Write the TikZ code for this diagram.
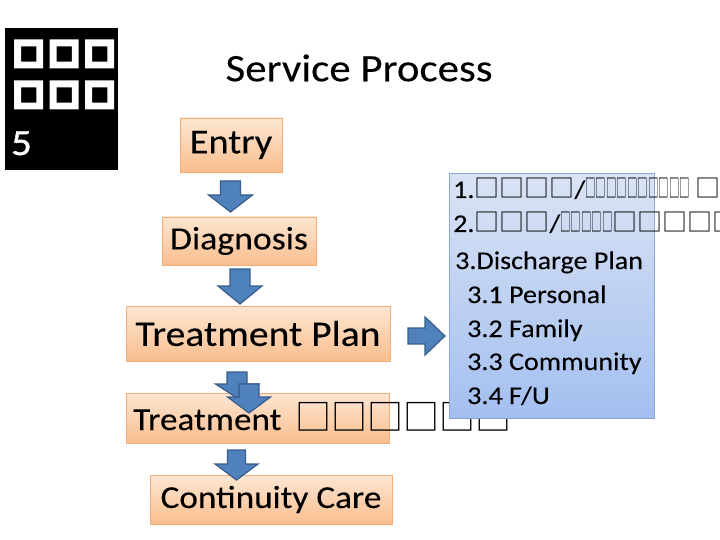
\documentclass[tikz,border=0pt]{standalone}
\usepackage{fontspec}
\usepackage{graphicx}
\setmainfont{Carlito}[FakeStretch=1.1, FakeBold=0.15]
\newfontfamily\fivefont{Carlito}[FakeStretch=1.1, FakeBold=1.2]
\newfontfamily\cjk{Noto Sans CJK SC}
\newfontfamily\cjkb{Noto Sans CJK SC}[FakeBold=20]
\definecolor{orTop}{HTML}{FDE6D2}
\definecolor{orBot}{HTML}{F9BE8E}
\definecolor{orLine}{HTML}{F2AE7A}
\definecolor{blTop}{HTML}{DAE3F4}
\definecolor{blBot}{HTML}{A3BFF0}
\definecolor{blLine}{HTML}{8AA6D8}
\definecolor{arFill}{HTML}{4F81BD}
\definecolor{arLine}{HTML}{385D8A}
\newcommand\fs[1]{\fontsize{#1}{#1}\selectfont}
\newcommand\nt{\scalebox{0.42}[1]{\cjk\fs{25}□}}
\newcommand\bt{{\cjk\fs{25}□}}
\newcommand\wt{{\cjkb\fs{29}□}\kern6.5pt}
\usetikzlibrary{calc}
\newcommand\barrow[7]{% name, cx, ytop, ybot, shaft w, head w, head len  (down arrow)
  \coordinate (#1) at (#2,#3);
  \draw[blockarrow] ($(#1)+(-#5/2,0)$) -- ($(#1)+(#5/2,0)$) -- ($(#1)+(#5/2,#4-#3-#7)$)
    -- ($(#1)+(#6/2,#4-#3-#7)$) -- ($(#1)+(0,#4-#3)$) -- ($(#1)+(-#6/2,#4-#3-#7)$)
    -- ($(#1)+(-#5/2,#4-#3-#7)$) -- cycle;}
\tikzset{
  obox/.style={draw=orLine, line width=0.8pt, top color=orTop, bottom color=orBot, inner sep=0pt},
  blockarrow/.style={draw=arLine, line width=1.2pt, fill=arFill, line join=miter},
}
\begin{document}
\begin{tikzpicture}[x=1pt,y=-1pt]
\useasboundingbox (0,0) rectangle (720,540);
% black block
\fill[black] (5,28) rectangle (118,170);
\begin{scope}
\clip (5,28) rectangle (118,170);
\node[anchor=base west, text=white, inner sep=0pt] (tl1) at (14,65) {\wt\wt\wt};
\node[anchor=base west, text=white, inner sep=0pt] (tl2) at (14,106) {\wt\wt\wt};
\end{scope}
\node[anchor=base west, text=white, inner sep=0pt] (five) at (11,155) {\fivefont\fs{37}5};
% title
\node[inner sep=0pt] (title) at (359,68) {\fs{39}Service Process};
% boxes
\node[obox, minimum width=102pt, minimum height=54pt] (entry) at (231,145) {\fs{35}Entry};
\node[obox, minimum width=154pt, minimum height=48pt] (diag) at (239,241) {\fs{32.5}Diagnosis};
\node[obox, minimum width=264pt, minimum height=55pt] (tplan) at (258,333.5) {\fs{36}Treatment Plan};
\node[obox, minimum width=263pt, minimum height=50pt] (treat) at (257.5,418) {};
\node[anchor=base west, inner sep=0pt] (treattxt) at (133,430) {\fs{32}Treatment\kern14pt{\cjk\fs{36}□□□□□□}};
\node[obox, minimum width=242pt, minimum height=49pt] (cont) at (271,499.5) {\fs{32}Continuity Care};
% arrows
\barrow{a1}{230.5}{181}{212}{20}{44}{17}
\barrow{a2}{240}{269}{304}{20}{44}{18}
\barrow{a3}{237}{372}{398}{20}{43}{14}
\barrow{a4}{249}{384}{413}{20}{43}{16}
\barrow{a5}{236.5}{450}{480}{18}{43}{16}
% right arrow
\coordinate (ra) at (408,336);
\draw[blockarrow] ($(ra)+(0,-8)$) -- ($(ra)+(17,-8)$) -- ($(ra)+(17,-19)$) -- ($(ra)+(37,0)$)
  -- ($(ra)+(17,19)$) -- ($(ra)+(17,8)$) -- ($(ra)+(0,8)$) -- cycle;
% blue panel
\node[draw=blLine, line width=0.8pt, top color=blTop, bottom color=blBot, minimum width=205pt, minimum height=245pt, inner sep=0pt, anchor=north west] (panel) at (449,173) {};
\begin{scope}[every node/.style={anchor=base west, inner sep=0pt}]
\node (l1) at (453,198) {\fs{25.5}1.\bt\bt\bt\bt/\nt\nt\nt\nt\nt\nt\nt\nt\nt\nt\kern5pt\bt\bt};
\node (l2) at (453,232) {\fs{25.5}2.\bt\bt\bt/\nt\nt\nt\nt\nt\bt\bt\bt\bt\bt};
\node (l3) at (455,269) {\fs{25.5}3.Discharge Plan};
\node (l4) at (467,303) {\fs{25.5}3.1 Personal};
\node (l5) at (467,337) {\fs{25.5}3.2 Family};
\node (l6) at (467,370) {\fs{25.5}3.3 Community};
\node (l7) at (467,404) {\fs{25.5}3.4 F/U};
\end{scope}
\end{tikzpicture}
\end{document}
